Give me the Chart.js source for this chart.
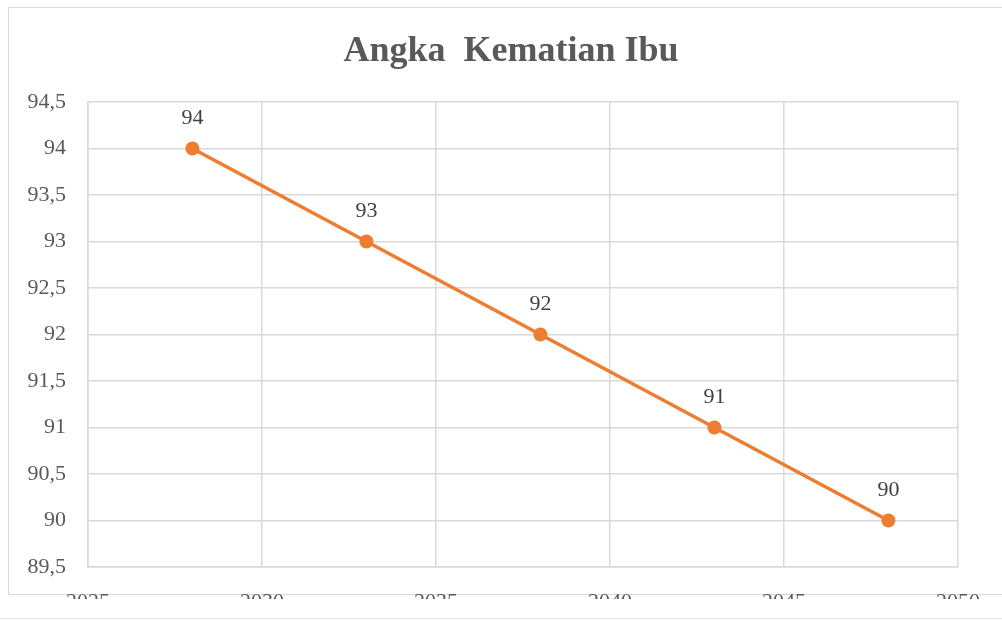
<!DOCTYPE html>
<html lang="id">
<head>
  <meta charset="UTF-8" />
  <title>Angka Kematian Ibu</title>
  <script src="https://cdn.jsdelivr.net/npm/chart.js"></script>
  <style>
    body { margin: 0; background: #fff; width: 1002px; height: 621px; overflow: hidden; position: relative; }
    #frame { position: absolute; left: 8px; top: 7px; width: 1010px; height: 586px; border: 1px solid #d9d9d9; }
    #wrap { position: absolute; left: 0; top: 0; width: 1002px; height: 599px; overflow: hidden; }
    #bottomLine { position: absolute; left: 0; top: 618px; width: 1002px; height: 1px; background: #e6e6e6; }
  </style>
</head>
<body>
  <div id="frame"></div>
  <div id="wrap"><canvas id="chart" width="1002" height="615"></canvas></div>
  <div id="bottomLine"></div>

  <script>
    // data
    const years = [2028, 2033, 2038, 2043, 2048];
    const rates = [94, 93, 92, 91, 90];
    const xTicks = [2025, 2030, 2035, 2040, 2045, 2050];
    const yMin = 89.5, yMax = 94.5, yStep = 0.5;
    const chartTitle = 'Angka  Kematian Ibu';

    const serif = "'Liberation Serif', 'Times New Roman', serif";

    // title (centred on the whole frame, not the padded box) + value labels
    const textLayer = {
      id: 'textLayer',
      afterDatasetsDraw(chart) {
        const ctx = chart.ctx;
        ctx.save();
        ctx.textAlign = 'center';
        ctx.textBaseline = 'middle';

        ctx.font = 'bold 36px ' + serif;
        ctx.fillStyle = '#595959';
        ctx.fillText(chartTitle, 511, 52);

        ctx.font = '22px ' + serif;
        ctx.fillStyle = '#404040';
        chart.getDatasetMeta(0).data.forEach((pt, i) => {
          ctx.fillText(String(rates[i]), pt.x, pt.y - 30);
        });
        ctx.restore();
      }
    };

    new Chart(document.getElementById('chart'), {
      type: 'line',
      data: {
        datasets: [{
          data: years.map((y, i) => ({ x: y, y: rates[i] })),
          borderColor: '#ED7D31',
          backgroundColor: '#ED7D31',
          borderWidth: 3.5,
          pointRadius: 7,
          pointBorderWidth: 0,
          fill: false,
          tension: 0
        }]
      },
      options: {
        responsive: false,
        animation: false,
        layout: { padding: { left: 0, right: 39, top: 102, bottom: 0 } },
        plugins: {
          legend: { display: false },
          tooltip: { enabled: false },
          title: { display: false }
        },
        scales: {
          x: {
            type: 'linear',
            min: xTicks[0],
            max: xTicks[xTicks.length - 1],
            afterBuildTicks: s => { s.ticks = xTicks.map(v => ({ value: v })); },
            afterFit: s => { s.height = 48; },
            grid: { color: '#d9d9d9', lineWidth: 1.5, drawTicks: false },
            border: { color: '#d9d9d9', width: 1.5 },
            ticks: {
              color: '#595959',
              font: { family: serif, size: 22 },
              padding: 22,
              maxRotation: 0,
              callback: v => String(v)
            }
          },
          y: {
            min: yMin,
            max: yMax,
            afterFit: s => { s.width = 88; },
            grid: { color: '#d9d9d9', lineWidth: 1.5, drawTicks: false },
            border: { color: '#d9d9d9', width: 1.5 },
            ticks: {
              stepSize: yStep,
              color: '#595959',
              font: { family: serif, size: 22 },
              padding: 22,
              callback: v => String(v).replace('.', ',')
            }
          }
        }
      },
      plugins: [textLayer]
    });
  </script>
</body>
</html>
